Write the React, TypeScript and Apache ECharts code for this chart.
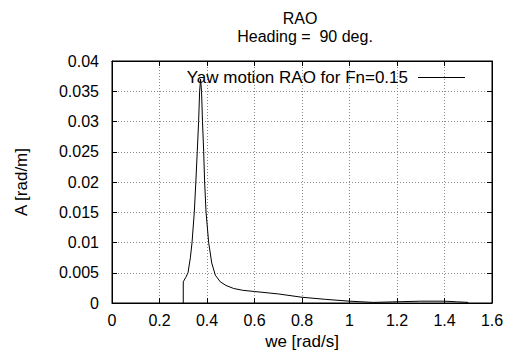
import React, { useEffect, useRef } from "react";
import * as echarts from "echarts";

const titleMain = "RAO";
const titleSub = "Heading =  90 deg.";
const seriesName = "Yaw motion RAO for Fn=0.15";
const xName = "we [rad/s]";
const yName = "A [rad/m]";

const we = [
  0.3, 0.3, 0.31, 0.32, 0.33, 0.337, 0.3465, 0.353, 0.359, 0.3647, 0.369, 0.373,
  0.377, 0.381, 0.386, 0.39, 0.396, 0.407, 0.42, 0.435, 0.456, 0.48, 0.512, 0.55,
  0.6, 0.7, 0.8, 0.9, 1.0, 1.1, 1.2, 1.3, 1.4, 1.45, 1.5,
];
const amp = [
  0, 0.0035, 0.0042, 0.005, 0.0075, 0.01, 0.015, 0.02, 0.025, 0.03, 0.035, 0.037,
  0.035, 0.03, 0.025, 0.02, 0.015, 0.01, 0.0066, 0.0046, 0.0035, 0.0029, 0.0024, 0.0021,
  0.0019, 0.0015, 0.00095, 0.0006, 0.0003, 0.0001, 0.0002, 0.0003, 0.0003, 0.0002, 0.0001,
];

const FONT = "'Liberation Sans', Arial, Helvetica, sans-serif";

export default function App() {
  const ref = useRef<HTMLDivElement>(null);
  useEffect(() => {
    if (!ref.current) return;
    const chart = echarts.init(ref.current, undefined, { renderer: "svg" });
    const data = we.map((x, i) => [x, amp[i]]);
    const gridLine = { show: true, lineStyle: { color: "#8a8a8a", width: 1, type: [1, 2] as any } };
    const tick = { show: true, inside: true, length: 5, lineStyle: { color: "#000" } };
    const line = { show: true, onZero: false, lineStyle: { color: "#000", width: 1 } };
    chart.setOption({
      animation: false,
      backgroundColor: "#fff",
      textStyle: { fontFamily: FONT, color: "#000" },
      title: [
        { text: titleMain, left: 300, top: 10, padding: 0, textAlign: "center", textStyle: { fontSize: 16, fontWeight: "normal", color: "#000", fontFamily: FONT } },
        { text: titleSub, left: 305, top: 28, padding: 0, textAlign: "center", textStyle: { fontSize: 16, fontWeight: "normal", color: "#000", fontFamily: FONT } },
      ],
      legend: {
        right: 38,
        top: 64,
        align: "right",
        icon: "rect",
        itemWidth: 47,
        itemHeight: 1,
        itemGap: 0,
        textStyle: { fontSize: 17, color: "#000", fontFamily: FONT, padding: [0, 5, 0, 0] },
        data: [{ name: seriesName, itemStyle: { color: "#000" } }],
      },
      grid: { left: 112, right: 16, top: 61, bottom: 53, show: true, borderColor: "#000", borderWidth: 1, backgroundColor: "transparent" },
      xAxis: [
        {
          type: "value", min: 0, max: 1.6, interval: 0.2, position: "bottom",
          name: xName, nameLocation: "middle", nameGap: 25,
          nameTextStyle: { fontSize: 17, color: "#000", fontFamily: FONT },
          axisLine: line, axisTick: tick, splitLine: gridLine,
          axisLabel: { fontSize: 16, color: "#000", margin: 9, fontFamily: FONT },
        },
        {
          type: "value", min: 0, max: 1.6, interval: 0.2, position: "top",
          axisLine: line, axisTick: tick, splitLine: { show: false }, axisLabel: { show: false },
        },
      ],
      yAxis: [
        {
          type: "value", min: 0, max: 0.04, interval: 0.005, position: "left",
          name: yName, nameLocation: "middle", nameGap: 82, nameRotate: 90,
          nameTextStyle: { fontSize: 17, color: "#000", fontFamily: FONT },
          axisLine: line, axisTick: tick, splitLine: gridLine,
          axisLabel: { fontSize: 16, color: "#000", margin: 13, fontFamily: FONT },
        },
        {
          type: "value", min: 0, max: 0.04, interval: 0.005, position: "right",
          axisLine: line, axisTick: tick, splitLine: { show: false }, axisLabel: { show: false },
        },
      ],
      series: [
        {
          name: seriesName,
          type: "line",
          xAxisIndex: 0,
          yAxisIndex: 0,
          data,
          showSymbol: false,
          symbol: "none",
          smooth: false,
          lineStyle: { color: "#000", width: 1 },
          itemStyle: { color: "#000" },
        },
      ],
    });
    return () => chart.dispose();
  }, []);
  return <div ref={ref} style={{ position: "fixed", left: 0, top: 0, width: 508, height: 356 }} />;
}
